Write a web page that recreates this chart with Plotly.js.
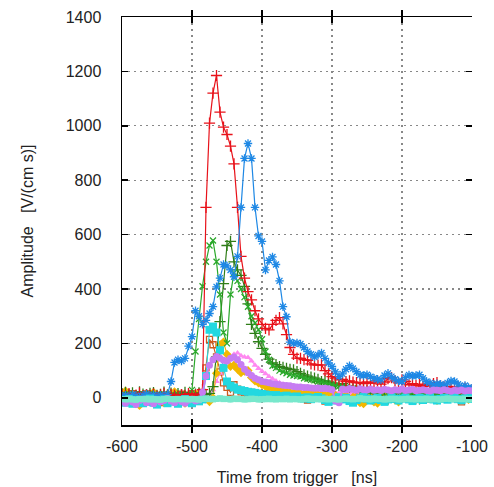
<!DOCTYPE html>
<html>
<head>
<meta charset="utf-8">
<script src="https://cdn.plot.ly/plotly-3.0.1.min.js"></script>
<style>html,body{margin:0;padding:0;background:#fff;}#chart{width:494px;height:487px;}</style>
</head>
<body>
<div id="chart"></div>
<script>
// Time from trigger [ns]
const timeNs = [-600,-595,-590,-585,-580,-575,-570,-565,-560,-555,-550,-545,-540,-535,-530,-525,-520,-515,-510,-505,
-500,-495,-490,-485,-480,-475,-470,-465,-460,-455,-450,-445,-440,-435,-430,-425,-420,-415,-410,-405,
-400,-395,-390,-385,-380,-375,-370,-365,-360,-355,-350,-345,-340,-335,-330,-325,-320,-315,-310,-305,
-300,-295,-290,-285,-280,-275,-270,-265,-260,-255,-250,-245,-240,-235,-230,-225,-220,-215,-210,-205,
-200,-195,-190,-185,-180,-175,-170,-165,-160,-155,-150,-145,-140,-135,-130,-125,-120,-115,-110,-105,-100];

const redVals = [12,8,15,5,10,18,7,12,9,14,6,11,16,8,13,10,5,12,9,15,8,11,14,
30,700,1010,1120,1185,1050,995,968,925,860,
700,520,440,390,360,320,290,270,255,250,
270,285,295,272,232,185,160,146,145,140,
138,125,121,120,121,100,88,78,72,66,
68,60,62,58,56,55,52,58,54,55,
62,50,58,70,74,62,55,66,60,48,
52,45,50,42,48,44,52,56,45,40,
42,38,35,40,32,36,30,28];

const blueVals = [5,10,3,12,8,2,9,14,6,11,4,10,7,12,
60,130,140,135,145,190,225,320,300,270,
285,310,335,408,440,490,485,470,445,520,
700,880,935,880,700,595,575,470,505,518,
490,430,335,298,205,200,202,198,185,170,
160,150,158,165,145,128,115,95,78,88,
105,118,108,96,84,82,85,78,72,68,
66,82,90,78,68,62,60,75,84,80,
82,85,72,60,55,48,52,50,45,55,
62,60,50,40,45,38,35];

const lightGreenVals = [10,6,14,3,9,12,5,8,15,4,11,7,13,2,9,6,12,8,5,10,
29,170,290,410,500,560,578,500,380,240,
200,380,460,430,400,370,335,300,275,250,
215,170,140,118,110,100,95,90,85,82,
80,78,72,70,66,64,60,58,55,52,
48,45,42,40,38,36,35,32,30,28,
27,25,28,24,22,25,20,22,18,20,
17,19,15,18,14,16,12,15,11,14,
10,13,9,12,8,11,10,12,8,10,9];

const darkGreenVals = [15,20,12,18,8,22,14,10,16,19,9,13,21,11,17,6,15,12,20,10,8,14,18,5,12,16,
41,150,280,420,560,575,500,470,450,410,
345,270,237,206,182,160,142,128,122,115,
112,108,105,103,96,90,84,80,76,72,
68,60,62,58,55,50,46,52,44,40,
42,36,30,34,26,22,18,10,5,0,
-5,2,8,-2,5,12,18,10,4,-4,
6,15,20,12,8,18,25,20,15,10,
18,22,16,12,20];

const pinkVals = [5,-8,10,2,-5,8,12,0,-10,6,3,-4,9,1,-6,7,4,-2,11,0,-7,5,8,-3,6,2,
30,60,90,110,130,150,160,165,155,150,148,135,120,108,98,88,78,70,62,55,
50,46,42,40,38,35,33,30,28,26,25,24,22,20,22,19,18,20,17,16,
18,15,14,16,13,12,15,11,10,14,12,9,11,13,8,10,12,9,7,11,
10,8,12,9,6,10,8,11,7,9,10,8,6,9,7];

const yellowVals = [18,25,10,-5,-22,-28,-15,5,12,20,8,-10,-18,2,15,22,6,-8,-20,-12,4,14,18,9,-4,-14,0,
90,195,205,160,115,120,105,92,98,100,75,62,55,48,42,38,34,30,28,25,
22,20,18,22,16,14,18,12,15,10,13,8,11,6,9,-5,4,8,-12,2,
6,-18,-22,0,5,-15,-20,3,8,12,5,-8,-15,0,6,10,4,-6,2,9,
14,6,-4,-10,3,8,12,5,-2,7,10,4,-6,2];

const brownVals = [8,12,5,15,10,3,9,14,6,11,2,-12,-18,-8,4,10,7,13,5,9,15,6,11,20,
110,215,195,150,95,55,38,20,48,32,22,
18,15,20,12,16,10,14,8,12,10,6,9,5,8,4,7,3,6,-8,5,
2,8,4,-12,6,3,9,5,2,7,4,10,6,1,8,3,5,-10,4,7,
2,6,9,3,5,0,7,4,8,2,6,3,-5,5,8,2,6,4,1,7,3,5,-15,2,6,4];

const cyanVals = [-10,-18,-5,-22,-12,-8,-20,-15,-3,-18,-25,-10,-6,-20,-14,-8,-22,-12,-5,-16,-20,-9,-13,-6,
80,250,262,240,175,110,60,45,38,30,28,
25,22,20,18,15,14,12,10,8,10,6,5,8,4,2,5,0,-3,2,-5,
0,3,-2,-8,-15,-10,-4,2,-6,0,-12,-18,-8,-2,4,-3,-10,-5,0,-8,
-15,-6,2,-4,-10,-3,1,-6,-12,-5,0,-8,-3,2,-6,-10,-4,0,-7,-2,
3,-5,-9,-2,1,-4];

const purpleVals = [-12,-20,-8,-15,-25,-10,-5,-18,-12,-22,-8,-15,-10,-3,-12,-18,-6,-14,-20,-9,-5,-12,-8,
20,80,120,140,152,145,138,135,145,150,140,122,105,92,82,72,66,60,
58,55,52,50,48,46,45,44,42,40,40,38,38,36,35,36,34,35,33,30,
-12,-18,32,30,34,31,28,33,30,29,32,28,30,27,31,29,26,30,28,32,
27,29,31,26,28,30,27,25,29,28,26,30,27,24,28,26,29,25,27,26];

const aquaVals = [-4,-6,-3,-5,-7,-4,-5,-3,-6,-4,-5,-7,-4,-3,-5,-6,-4,-5,-3,-6,
-4,-5,-7,-4,-3,-5,-6,-4,-2,-5,-4,-6,-3,-5,-4,-6,-5,-3,-4,-6,
-5,-4,-3,-5,-6,-4,-5,-3,-6,-4,-5,-7,-4,-3,-5,-6,-4,-5,-3,-6,
-4,-5,-7,-4,-3,-5,-6,-4,-2,-5,-4,-6,-3,-5,-4,-6,-5,-3,-4,-6,
-5,-4,-3,-5,-6,-4,-5,-3,-6,-4,-5,-7,-4,-3,-5,-6,-4,-5,-3,-6,-4];

const xTicks = [-600,-500,-400,-300,-200,-100];
const yTicks = [0,200,400,600,800,1000,1200,1400];

function series(vals, color, symbol, size, lw, open) {
  const m = {symbol: symbol, size: size, color: color};
  if (open) m.line = {color: color, width: 1.3};
  return {x: timeNs, y: vals, type: 'scatter', mode: 'lines+markers',
    line: {color: color, width: lw}, marker: m, showlegend: false, hoverinfo: 'skip'};
}

const traces = [
  series(brownVals, '#cc5a1e', 'square-open', 6, 1.1, true),
  series(pinkVals, '#ff88f0', 'triangle-up', 6, 1.1, false),
  series(yellowVals, '#f2b800', 'diamond', 7, 1.1, false),
  series(darkGreenVals, '#2f7d18', 'cross-thin-open', 8, 1.2, true),
  series(lightGreenVals, '#2aa82a', 'x-thin-open', 6, 1.2, true),
  series(redVals, '#e8121a', 'cross-thin-open', 8, 1.2, true),
  series(blueVals, '#1e88e5', 'asterisk-open', 7, 1.2, true),
  series(cyanVals, '#22d8e0', 'square', 8, 1.1, false),
  series(purpleVals, '#c77cf2', 'circle', 7, 2, false),
  series(aquaVals, '#78e8cc', 'square', 6, 6, false),
  {x: [], y: [], yaxis: 'y2', type: 'scatter', showlegend: false, hoverinfo: 'skip'}
];

const font = {family: 'Liberation Sans, Arial, sans-serif', size: 16, color: '#222'};

const layout = {
  width: 494, height: 487,
  margin: {l: 122, r: 22, t: 17, b: 62},
  paper_bgcolor: '#fff', plot_bgcolor: '#fff',
  font: font,
  xaxis: {
    range: [-600, -100], tickvals: xTicks, ticktext: xTicks.map(String),
    showline: true, linecolor: '#000', linewidth: 1.5, mirror: 'allticks',
    ticks: 'inside', ticklen: 6, tickcolor: '#000', tickwidth: 1.5,
    showgrid: true, gridcolor: '#888', griddash: '2px,4px', gridwidth: 1.3,
    zeroline: false, tickfont: font, ticklabelstandoff: 6,
    title: {text: 'Time from trigger   [ns]', font: font, standoff: 18}
  },
  yaxis: {
    range: [-100, 1400], tickvals: yTicks, ticktext: yTicks.map(String),
    showline: true, linecolor: '#000', linewidth: 1.5, mirror: false,
    ticks: 'inside', ticklen: 6, tickcolor: '#000', tickwidth: 1.5,
    showgrid: true, gridcolor: '#888', griddash: '2px,4px', gridwidth: 1.3,
    zeroline: false, tickfont: font, ticklabelstandoff: 16,
    title: {text: 'Amplitude   [V/(cm s)]', font: font, standoff: 28}
  },
  yaxis2: {
    range: [-100, 1400], tickvals: yTicks, overlaying: 'y', side: 'right', anchor: 'x',
    showline: false, showgrid: false, zeroline: false, showticklabels: false,
    ticks: 'inside', ticklen: 6, tickcolor: '#000', tickwidth: 1.5
  }
};

Plotly.newPlot('chart', traces, layout, {staticPlot: true, displayModeBar: false});
</script>
</body>
</html>
